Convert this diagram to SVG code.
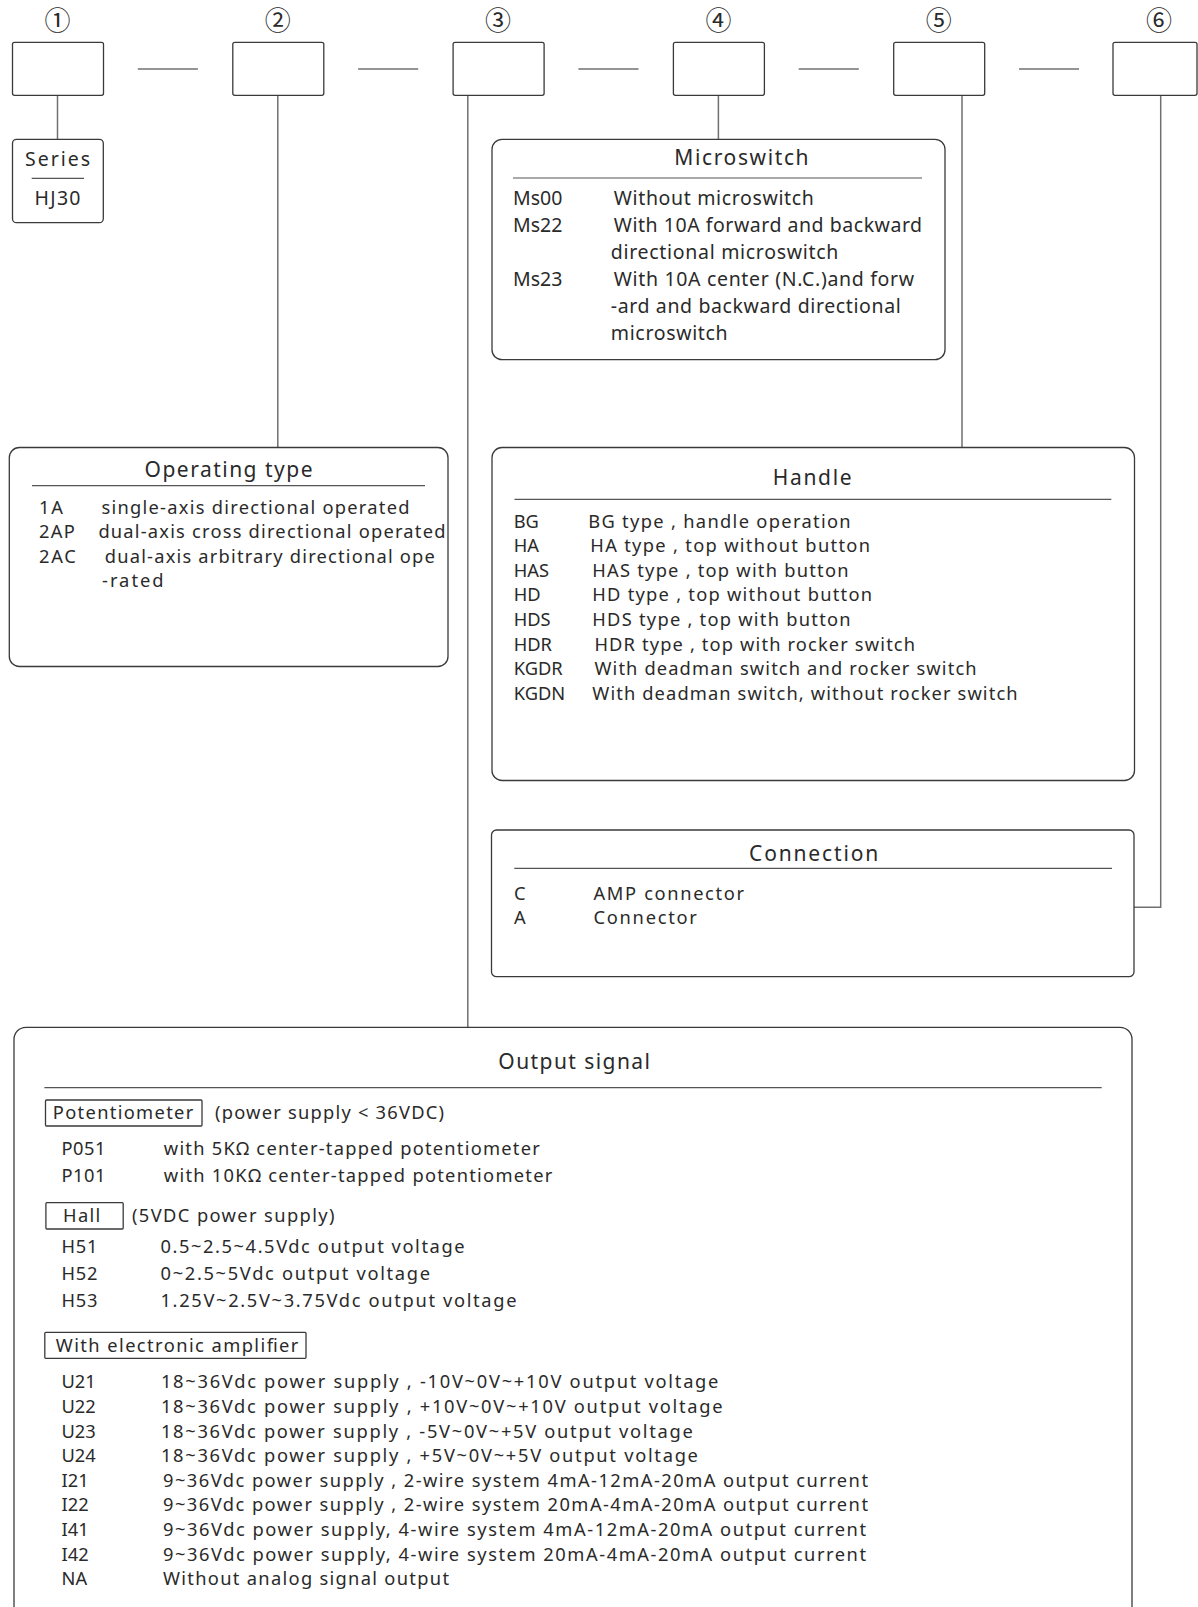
<svg xmlns="http://www.w3.org/2000/svg" width="1198" height="1607" viewBox="0 0 1198 1607">
<style>
.bg{fill:#ffffff}
.b{fill:none;stroke:#3a3a3a;stroke-width:1.3}
.c{fill:none;stroke:#707070;stroke-width:1.5}
.d{stroke:#555555;stroke-width:1.2}
.t{font-family:"Noto Sans","Liberation Sans",sans-serif;font-size:18.3px;fill:#2a2a2a}
.m{font-size:19.5px}
.h{font-size:21px}
.n{font-family:"Noto Sans CJK SC","DejaVu Sans",sans-serif;font-size:26px;fill:#2a2a2a;text-anchor:middle}
</style>
<rect class="bg" x="0" y="0" width="1198" height="1607"/>

<g id="connectors">
<line class="c" x1="137.8" y1="69" x2="197.9" y2="69"/>
<line class="c" x1="358.1" y1="69" x2="418.2" y2="69"/>
<line class="c" x1="578.4" y1="69" x2="638.5" y2="69"/>
<line class="c" x1="798.7" y1="69" x2="858.8" y2="69"/>
<line class="c" x1="1019" y1="69" x2="1079" y2="69"/>
<line class="c" x1="57.5" y1="95.3" x2="57.5" y2="139.3"/>
<line class="c" x1="277.8" y1="95.3" x2="277.8" y2="447.5"/>
<line class="c" x1="467.8" y1="95.3" x2="467.8" y2="1027.3"/>
<line class="c" x1="718.4" y1="95.3" x2="718.4" y2="139.4"/>
<line class="c" x1="962" y1="95.3" x2="962" y2="447.5"/>
<polyline class="c" points="1160.7,95.3 1160.7,907.3 1134,907.3"/>
</g>

<g id="nums">
<text class="n" x="57.5" y="29.5">①</text>
<text class="n" x="277.8" y="29.5">②</text>
<text class="n" x="498.1" y="29.5">③</text>
<text class="n" x="718.4" y="29.5">④</text>
<text class="n" x="938.7" y="29.5">⑤</text>
<text class="n" x="1159" y="29.5">⑥</text>
</g>

<g id="box1"><rect class="b" x="12.5" y="42.3" width="91" height="53" rx="2"/></g>
<g id="box2"><rect class="b" x="232.8" y="42.3" width="91" height="53" rx="2"/></g>
<g id="box3"><rect class="b" x="453.1" y="42.3" width="91" height="53" rx="2"/></g>
<g id="box4"><rect class="b" x="673.4" y="42.3" width="91" height="53" rx="2"/></g>
<g id="box5"><rect class="b" x="893.7" y="42.3" width="91" height="53" rx="2"/></g>
<g id="box6"><rect class="b" x="1113" y="42.3" width="84" height="53" rx="2"/></g>

<g id="series">
<rect class="b" x="12.5" y="139.3" width="90.8" height="83.4" rx="4"/>
<text class="t m" x="25" y="166" textLength="65" lengthAdjust="spacing">Series</text>
<line class="d" x1="31.7" y1="178.3" x2="84" y2="178.3"/>
<text class="t m" x="34.5" y="205" textLength="46" lengthAdjust="spacing">HJ30</text>
</g>

<g id="microswitch">
<rect class="b" x="492" y="139.4" width="453" height="220.3" rx="10"/>
<text class="t h" x="674.3" y="165" textLength="134.3" lengthAdjust="spacing">Microswitch</text>
<line class="d" x1="513" y1="178" x2="922" y2="178"/>
<text class="t m" x="513" y="205">Ms00</text>
<text class="t m" x="513" y="231.7">Ms22</text>
<text class="t m" x="513" y="285.5">Ms23</text>
<text class="t m" x="613.8" y="205" textLength="200" lengthAdjust="spacing">Without microswitch</text>
<text class="t m" x="613.8" y="231.7" textLength="308.3" lengthAdjust="spacing">With 10A forward and backward</text>
<text class="t m" x="610.8" y="258.5" textLength="227.5" lengthAdjust="spacing">directional microswitch</text>
<text class="t m" x="613.8" y="285.5" textLength="300.3" lengthAdjust="spacing">With 10A center (N.C.)and forw</text>
<text class="t m" x="610.8" y="312.5" textLength="290" lengthAdjust="spacing">-ard and backward directional</text>
<text class="t m" x="610.8" y="339.5" textLength="116.8" lengthAdjust="spacing">microswitch</text>
</g>

<g id="operating">
<rect class="b" x="9.3" y="447.5" width="438.7" height="219" rx="10"/>
<text class="t h" x="144.5" y="476.5" textLength="168" lengthAdjust="spacing">Operating type</text>
<line class="d" x1="32" y1="485.7" x2="425" y2="485.7"/>
<text class="t" x="38.9" y="513.5" textLength="24" lengthAdjust="spacing">1A</text>
<text class="t" x="38.9" y="538" textLength="36" lengthAdjust="spacing">2AP</text>
<text class="t" x="38.9" y="562.5" textLength="37" lengthAdjust="spacing">2AC</text>
<text class="t" x="101.5" y="513.5" textLength="308" lengthAdjust="spacing">single-axis directional operated</text>
<text class="t" x="98.4" y="538" textLength="347" lengthAdjust="spacing">dual-axis cross directional operated</text>
<text class="t" x="104.8" y="562.5" textLength="330" lengthAdjust="spacing">dual-axis arbitrary directional ope</text>
<text class="t" x="102" y="587" textLength="61.6" lengthAdjust="spacing">-rated</text>
</g>

<g id="handle">
<rect class="b" x="492" y="447.5" width="642.5" height="333" rx="10"/>
<text class="t h" x="772.7" y="485" textLength="79" lengthAdjust="spacing">Handle</text>
<line class="d" x1="514.5" y1="499.3" x2="1111.3" y2="499.3"/>
<text class="t" x="513.7" y="527.5">BG</text>
<text class="t" x="513.7" y="552">HA</text>
<text class="t" x="513.7" y="576.7">HAS</text>
<text class="t" x="513.7" y="601.3">HD</text>
<text class="t" x="513.7" y="625.9">HDS</text>
<text class="t" x="513.7" y="650.5">HDR</text>
<text class="t" x="513.7" y="675.1">KGDR</text>
<text class="t" x="513.7" y="699.7">KGDN</text>
<text class="t" x="588.2" y="527.5" textLength="262.4" lengthAdjust="spacing">BG type , handle operation</text>
<text class="t" x="590.3" y="552" textLength="279.7" lengthAdjust="spacing">HA type , top without button</text>
<text class="t" x="592.3" y="576.7" textLength="256.2" lengthAdjust="spacing">HAS type , top with button</text>
<text class="t" x="592.3" y="601.3" textLength="279.7" lengthAdjust="spacing">HD type , top without button</text>
<text class="t" x="592.3" y="625.9" textLength="258.3" lengthAdjust="spacing">HDS type , top with button</text>
<text class="t" x="594.4" y="650.5" textLength="320.7" lengthAdjust="spacing">HDR type , top with rocker switch</text>
<text class="t" x="594.4" y="675.1" textLength="382.2" lengthAdjust="spacing">With deadman switch and rocker switch</text>
<text class="t" x="592.3" y="699.7" textLength="425.3" lengthAdjust="spacing">With deadman switch, without rocker switch</text>
</g>

<g id="connection">
<rect class="b" x="491.5" y="830" width="642.5" height="146.7" rx="5"/>
<text class="t h" x="749" y="860.7" textLength="129.3" lengthAdjust="spacing">Connection</text>
<line class="d" x1="514.3" y1="868.3" x2="1112" y2="868.3"/>
<text class="t" x="514" y="900">C</text>
<text class="t" x="514" y="924">A</text>
<text class="t" x="593.5" y="900" textLength="150.5" lengthAdjust="spacing">AMP connector</text>
<text class="t" x="593.5" y="924" textLength="103.4" lengthAdjust="spacing">Connector</text>
</g>

<g id="output">
<rect class="b" x="14" y="1027.3" width="1118" height="620" rx="12"/>
<text class="t h" x="498.3" y="1069.3" textLength="151.7" lengthAdjust="spacing">Output signal</text>
<line class="d" x1="44.4" y1="1087.7" x2="1101.7" y2="1087.7"/>

<rect class="b" x="45.5" y="1100" width="156.5" height="26" rx="1"/>
<text class="t" x="52.8" y="1119.3" textLength="140.5" lengthAdjust="spacing">Potentiometer</text>
<text class="t" x="215" y="1119.3" textLength="229" lengthAdjust="spacing">(power supply &lt; 36VDC)</text>
<text class="t" x="61.5" y="1155" textLength="44" lengthAdjust="spacing">P051</text>
<text class="t" x="61.5" y="1182.3" textLength="44" lengthAdjust="spacing">P101</text>
<text class="t" x="163.8" y="1155" textLength="376" lengthAdjust="spacing">with 5KΩ center-tapped potentiometer</text>
<text class="t" x="163.8" y="1182.3" textLength="388.5" lengthAdjust="spacing">with 10KΩ center-tapped potentiometer</text>

<rect class="b" x="45.9" y="1202.7" width="77.3" height="26.3" rx="1"/>
<text class="t" x="63.1" y="1222.3" textLength="37.2" lengthAdjust="spacing">Hall</text>
<text class="t" x="132" y="1222.3" textLength="202.5" lengthAdjust="spacing">(5VDC power supply)</text>
<text class="t" x="61.5" y="1253.3" textLength="36" lengthAdjust="spacing">H51</text>
<text class="t" x="61.5" y="1280" textLength="36" lengthAdjust="spacing">H52</text>
<text class="t" x="61.5" y="1307" textLength="36" lengthAdjust="spacing">H53</text>
<text class="t" x="160.5" y="1253.3" textLength="304" lengthAdjust="spacing">0.5~2.5~4.5Vdc output voltage</text>
<text class="t" x="160.5" y="1280" textLength="269.5" lengthAdjust="spacing">0~2.5~5Vdc output voltage</text>
<text class="t" x="160.5" y="1307" textLength="356" lengthAdjust="spacing">1.25V~2.5V~3.75Vdc output voltage</text>

<rect class="b" x="44.8" y="1332.3" width="261.2" height="26" rx="1"/>
<text class="t" x="55.7" y="1351.7" textLength="242.7" lengthAdjust="spacing">With electronic amplifier</text>
<text class="t" x="61.5" y="1388.3">U21</text>
<text class="t" x="61.5" y="1412.9">U22</text>
<text class="t" x="61.5" y="1437.5">U23</text>
<text class="t" x="61.5" y="1462.1">U24</text>
<text class="t" x="61.5" y="1486.7">I21</text>
<text class="t" x="61.5" y="1511.3">I22</text>
<text class="t" x="61.5" y="1535.9">I41</text>
<text class="t" x="61.5" y="1560.5">I42</text>
<text class="t" x="61.5" y="1585.1">NA</text>
<text class="t" x="160.9" y="1388.3" textLength="557.5" lengthAdjust="spacing">18~36Vdc power supply , -10V~0V~+10V output voltage</text>
<text class="t" x="160.9" y="1412.9" textLength="561.6" lengthAdjust="spacing">18~36Vdc power supply , +10V~0V~+10V output voltage</text>
<text class="t" x="160.9" y="1437.5" textLength="531.9" lengthAdjust="spacing">18~36Vdc power supply , -5V~0V~+5V output voltage</text>
<text class="t" x="160.9" y="1462.1" textLength="537" lengthAdjust="spacing">18~36Vdc power supply , +5V~0V~+5V output voltage</text>
<text class="t" x="163" y="1486.7" textLength="705" lengthAdjust="spacing">9~36Vdc power supply , 2-wire system 4mA-12mA-20mA output current</text>
<text class="t" x="163" y="1511.3" textLength="705" lengthAdjust="spacing">9~36Vdc power supply , 2-wire system 20mA-4mA-20mA output current</text>
<text class="t" x="163" y="1535.9" textLength="703" lengthAdjust="spacing">9~36Vdc power supply,  4-wire system 4mA-12mA-20mA output current</text>
<text class="t" x="163" y="1560.5" textLength="703" lengthAdjust="spacing">9~36Vdc power supply,  4-wire system 20mA-4mA-20mA output current</text>
<text class="t" x="163" y="1585.1" textLength="286" lengthAdjust="spacing">Without analog signal output</text>
</g>
</svg>
